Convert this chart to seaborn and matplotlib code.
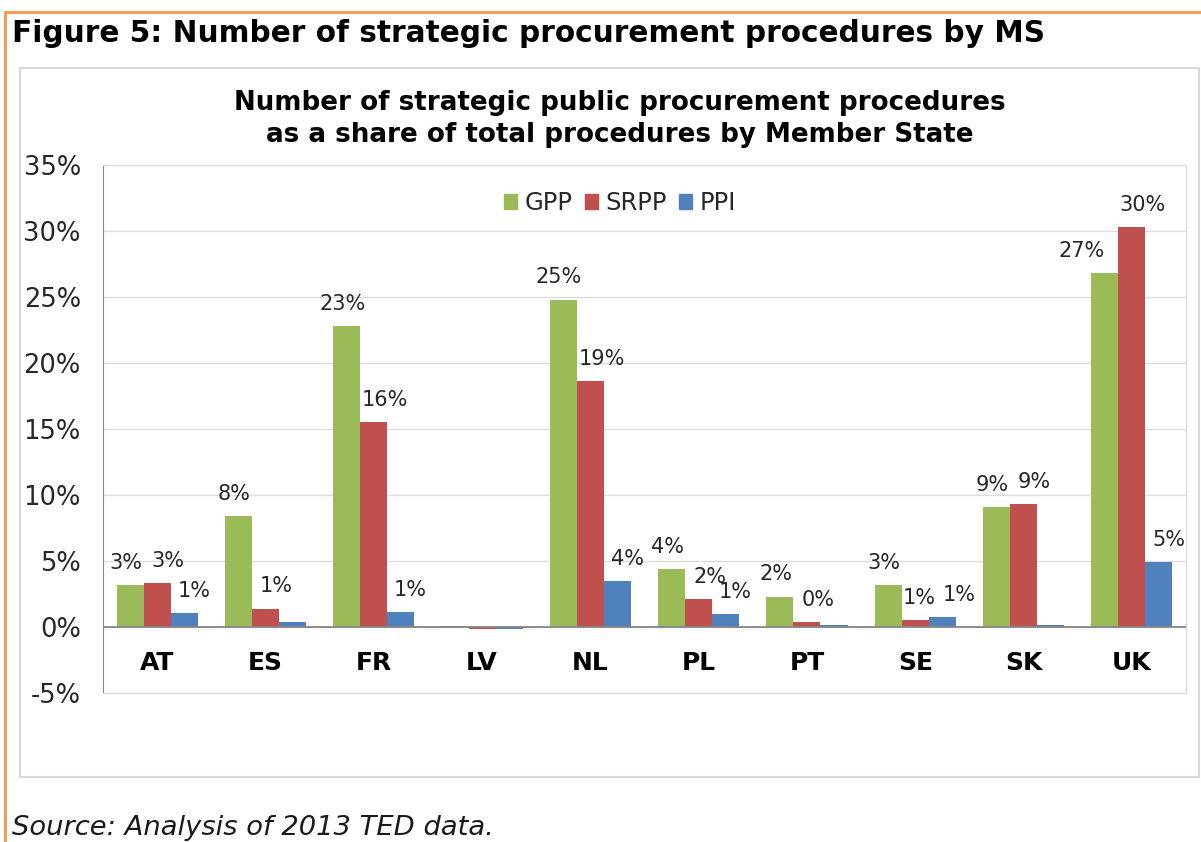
import numpy as np
import pandas as pd
import seaborn as sns
import matplotlib.pyplot as plt
from matplotlib.lines import Line2D
from matplotlib.patches import Rectangle

countries = ['AT', 'ES', 'FR', 'LV', 'NL', 'PL', 'PT', 'SE', 'SK', 'UK']
series = ['GPP', 'SRPP', 'PPI']

gpp = [3.15, 8.4, 22.8, 0.1, 24.8, 4.4, 2.3, 3.2, 9.1, 26.8]
srpp = [3.3, 1.4, 15.5, -0.15, 18.6, 2.1, 0.35, 0.55, 9.3, 30.3]
ppi = [1.05, 0.4, 1.15, -0.12, 3.5, 1.0, 0.12, 0.75, 0.15, 4.9]

gpp_labels = ['3%', '8%', '23%', '', '25%', '4%', '2%', '3%', '9%', '27%']
srpp_labels = ['3%', '1%', '16%', '', '19%', '2%', '0%', '1%', '9%', '30%']
ppi_labels = ['1%', '', '1%', '', '4%', '1%', '', '1%', '', '5%']

colors = ['#9BBB59', '#C0504D', '#4F81BD']

frame = pd.DataFrame({
    'country': countries * 3,
    'series': [s for s in series for _ in countries],
    'share': gpp + srpp + ppi,
})

W, H = 1201, 842

def px(x, y):
    # pixel position (from top-left) to figure fraction
    return x / W, 1 - y / H

sns.set_style('white')
plt.rcParams['font.family'] = ['DejaVu Sans']

fig = plt.figure(figsize=(W / 100, H / 100), dpi=100)

# frame around the figure in the report (orange) and the chart box (grey)
fig.add_artist(Line2D([px(5, 0)[0], px(5, 0)[0]], [px(0, 12)[1], 0], transform=fig.transFigure,
                      color='#F79646', lw=2))
fig.add_artist(Line2D([px(5, 0)[0], 1], [px(0, 12)[1], px(0, 12)[1]], transform=fig.transFigure,
                      color='#F79646', lw=2))
x0, y0 = px(20, 777)
x1, y1 = px(1199, 68)
fig.add_artist(Rectangle((x0, y0), x1 - x0, y1 - y0, transform=fig.transFigure,
                         fill=False, edgecolor='#D9D9D9', lw=1.5))

fig.text(*px(12, 33), 'Figure 5: Number of strategic procurement procedures by MS',
         fontsize=21.3, fontweight='bold', va='center', ha='left', color='black')
fig.text(*px(620, 103), 'Number of strategic public procurement procedures',
         fontsize=18.8, fontweight='bold', va='center', ha='center', color='black')
fig.text(*px(620, 135), 'as a share of total procedures by Member State',
         fontsize=18.8, fontweight='bold', va='center', ha='center', color='black')
fig.text(*px(12, 828), 'Source: Analysis of 2013 TED data.',
         fontsize=19.7, style='italic', va='center', ha='left', color='#1a1a1a')

l, b = px(103, 693)
r, t = px(1186, 165)
ax = fig.add_axes([l, b, r - l, t - b])

sns.barplot(data=frame, x='country', y='share', hue='series', order=countries,
            hue_order=series, palette=colors, saturation=1, width=0.75,
            linewidth=0, ax=ax)

ax.set_xlim(-0.5, len(countries) - 0.5)
ax.set_ylim(-5, 35)
ax.set_yticks(np.arange(-5, 36, 5))
ax.set_yticklabels([f'{v}%' for v in range(-5, 36, 5)])
ax.grid(axis='y', color='#DDDDDD', lw=1)
ax.set_axisbelow(True)
ax.axhline(0, color='#868686', lw=1.3)
ax.set_xlabel('')
ax.set_ylabel('')
for side in ['top', 'right', 'bottom']:
    ax.spines[side].set_color('#D9D9D9')
ax.spines['left'].set_color('#868686')
ax.tick_params(axis='y', length=0, pad=16, labelsize=18.5, labelcolor='#262626')
ax.tick_params(axis='x', length=0, pad=-30, labelsize=18, labelcolor='black')
for lab in ax.get_xticklabels():
    lab.set_fontweight('bold')
    lab.set_va('top')

# value labels, nudged like the original
nudge = {'GPP': -3, 'SRPP': 8, 'PPI': 7}
special = {('UK', 'GPP'): -17, ('SE', 'SRPP'): 3, ('SE', 'PPI'): 12}
for cont, name, labels in zip(ax.containers, series, [gpp_labels, srpp_labels, ppi_labels]):
    for bar, text, country in zip(cont, labels, countries):
        if not text:
            continue
        dx = special.get((country, name), nudge[name])
        ax.annotate(text, (bar.get_x() + bar.get_width() / 2, bar.get_height()),
                    xytext=(dx, 16), textcoords='offset points', ha='center', va='center',
                    fontsize=15, color='#262626')

ax.get_legend().remove()
handles = [Rectangle((0, 0), 1, 1, color=c) for c in colors]
fig.legend(handles, series, loc='center', bbox_to_anchor=px(620, 203), ncol=3,
           frameon=False, fontsize=17.5, handlelength=0.55, handleheight=0.55,
           handletextpad=0.3, columnspacing=0.5, labelcolor='#262626')

fig.savefig('out.png', dpi=100)
